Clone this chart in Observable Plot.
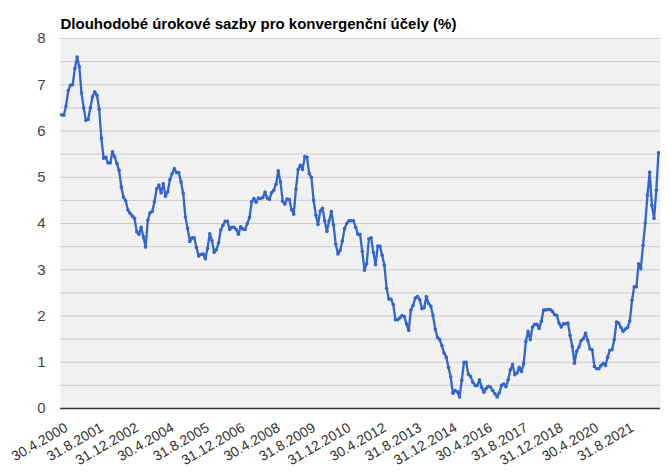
<!DOCTYPE html>
<html>
<head>
<meta charset="utf-8">
<script src="https://cdn.jsdelivr.net/npm/d3@7"></script>
<script src="https://cdn.jsdelivr.net/npm/@observablehq/plot@0.6"></script>
<style>
  body { margin: 0; background: #fff; }
  #chart svg { display: block; }
</style>
</head>
<body>
<div id="chart"></div>
<script>
// Monthly values from 30.4.2000 to 31.10.2022 (%)
const values = [
  6.35, 6.34, 6.54, 6.87, 6.99, 7.00, 7.35, 7.60, 7.39,
  6.82, 6.50, 6.23, 6.25, 6.50, 6.74, 6.85, 6.77, 6.47, 5.84, 5.41, 5.43,
  5.31, 5.31, 5.55, 5.44, 5.30, 5.15, 4.79, 4.57, 4.49, 4.29, 4.22, 4.16,
  4.11, 3.82, 3.77, 3.92, 3.71, 3.49, 4.07, 4.23, 4.26, 4.47, 4.75, 4.83,
  4.66, 4.86, 4.59, 4.68, 4.95, 5.08, 5.19, 5.10, 5.10, 4.90, 4.65, 4.14,
  3.89, 3.61, 3.69, 3.69, 3.48, 3.30, 3.33, 3.34, 3.24, 3.46, 3.78, 3.63,
  3.38, 3.43, 3.58, 3.86, 3.96, 4.05, 4.05, 3.87, 3.92, 3.92, 3.87, 3.77,
  3.93, 3.88, 3.87, 4.00, 4.13, 4.47, 4.54, 4.46, 4.55, 4.54, 4.56, 4.68,
  4.55, 4.52, 4.67, 4.72, 4.85, 5.14, 4.90, 4.48, 4.42, 4.53, 4.52, 4.30,
  4.20, 4.74, 5.17, 5.26, 5.17, 5.45, 5.43, 5.08, 5.00, 4.50, 4.18, 3.98,
  4.27, 4.33, 4.06, 3.83, 4.06, 4.26, 3.97, 3.55, 3.34, 3.42, 3.62, 3.89,
  4.00, 4.06, 4.06, 4.06, 3.92, 3.77, 3.76, 3.40, 2.99, 3.13, 3.67, 3.69,
  3.38, 3.11, 3.51, 3.51, 3.31, 3.10, 2.60, 2.37, 2.36, 2.25, 1.92, 1.92,
  1.96, 2.01, 1.99, 1.83, 1.69, 2.13, 2.23, 2.39, 2.42, 2.35, 2.16, 2.18,
  2.42, 2.27, 2.21, 2.01, 1.72, 1.54, 1.49, 1.36, 1.20, 1.11, 0.89, 0.68,
  0.33, 0.39, 0.36, 0.25, 0.61, 1.00, 1.00, 0.74, 0.69, 0.57, 0.50, 0.50,
  0.62, 0.46, 0.35, 0.43, 0.48, 0.46, 0.39, 0.32, 0.25, 0.34, 0.50, 0.53,
  0.47, 0.62, 0.84, 0.95, 0.73, 0.77, 0.89, 0.80, 0.97, 1.45, 1.67, 1.49,
  1.76, 1.82, 1.82, 1.73, 1.88, 2.13, 2.13, 2.14, 2.14, 2.10, 2.03, 2.01,
  1.85, 1.76, 1.83, 1.83, 1.85, 1.58, 1.34, 0.98, 1.24, 1.33, 1.47, 1.51,
  1.63, 1.47, 1.29, 1.27, 0.91, 0.86, 0.86, 0.93, 0.98, 0.93, 1.11, 1.26,
  1.27, 1.49, 1.87, 1.85, 1.75, 1.67, 1.72, 1.75, 1.89, 2.34, 2.63, 2.63,
  3.13, 3.02, 3.53, 4.01, 4.61, 5.11, 4.39, 4.11, 4.72, 5.53
];

// Category tick labels (every 16th month)
const tickLabels = [
  "30.4.2000", "31.8.2001", "31.12.2002", "30.4.2004", "31.8.2005",
  "31.12.2006", "30.4.2008", "31.8.2009", "31.12.2010", "30.4.2012",
  "31.8.2013", "31.12.2014", "30.4.2016", "31.8.2017", "31.12.2018",
  "30.4.2020", "31.8.2021"
];
const tickStep = 16;
const yTicks = [0, 1, 2, 3, 4, 5, 6, 7, 8];
const gridLines = [0.5, 1, 1.5, 2, 2.5, 3, 3.5, 4, 4.5, 5, 5.5, 6, 6.5, 7, 7.5, 8];
const title = "Dlouhodobé úrokové sazby pro konvergenční účely (%)";

const data = values.map((v, i) => ({i, v}));
const tickIdx = tickLabels.map((_, k) => k * tickStep);

const blue = "#3366cc";

const chart = Plot.plot({
  width: 671,
  height: 475,
  marginLeft: 60,
  marginRight: 11,
  marginTop: 38,
  marginBottom: 67,
  style: {fontFamily: "'Liberation Sans', Arial, sans-serif", fontSize: "14px", color: "#444", background: "#fff"},
  x: {domain: [-0.5, 270.9], axis: null},
  y: {domain: [0, 8], axis: null},
  marks: [
    Plot.frame({fill: "#f1f1f1", stroke: null}),
    Plot.ruleY(gridLines, {stroke: "#cccccc", strokeWidth: 1}),
    Plot.ruleY([0], {stroke: "#333", strokeWidth: 1.5}),
    Plot.axisY(yTicks, {tickSize: 0, tickPadding: 15, fontSize: 15, fill: "#444", label: null}),
    Plot.axisX(tickIdx, {
      tickSize: 0, tickPadding: 18, tickRotate: -30, fontSize: 14, fill: "#333", dx: 5,
      tickFormat: (d) => tickLabels[d / tickStep], label: null
    }),
    Plot.line(data, {x: "i", y: "v", stroke: blue, strokeWidth: 2.3}),
    Plot.dot(data, {x: "i", y: "v", fill: blue, r: 1.8, stroke: null}),
    Plot.text([title], {frameAnchor: "top-left", dy: -20, dx: 0, text: d => d, fontWeight: "bold", fontSize: 15, fill: "#000", textAnchor: "start"})
  ]
});
document.getElementById("chart").append(chart);
</script>
</body>
</html>
